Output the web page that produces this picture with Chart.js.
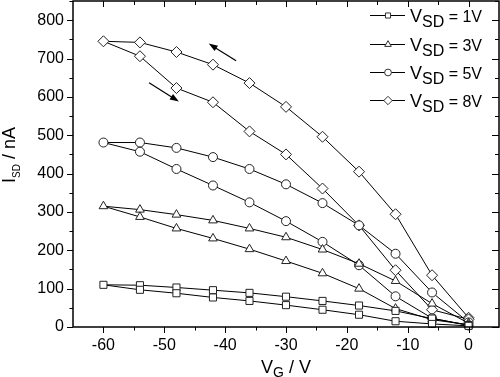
<!DOCTYPE html>
<html>
<head>
<meta charset="utf-8">
<script src="https://cdn.jsdelivr.net/npm/chart.js@4/dist/chart.umd.min.js"></script>
<style>
html,body{margin:0;padding:0;background:#fff;}
#c{display:block;}
</style>
</head>
<body>
<canvas id="c" width="500" height="377"></canvas>
<script>
// Gate voltage sweep: 0 -> -60 (upper branch), then back -54 -> 0 (lower branch)
const vgUp   = [0, -6, -12, -18, -24, -30, -36, -42, -48, -54, -60];
const vgDown = [-54, -48, -42, -36, -30, -24, -18, -12, -6, 0];

const seriesNames = ["1V", "3V", "5V", "8V"];
const pointStyles = ["rect", "triangle", "circle", "rectRot"];

const i1Up   = [5, 22, 42, 56, 68, 79, 89, 96, 103, 109, 110];
const i1Down = [97, 88, 77, 68, 57, 45, 32, 15, 8, 3];

const i3Up   = [10, 61, 120, 165, 202, 234, 257, 278, 293, 306, 315];
const i3Down = [287, 257, 231, 203, 172, 140, 100, 48, 19, 6];

const i5Up   = [12, 90, 191, 265, 323, 372, 412, 443, 467, 481, 481];
const i5Down = [457, 412, 369, 325, 276, 222, 161, 80, 23, 4];

const i8Up   = [24, 135, 294, 405, 496, 574, 636, 684, 717, 742, 745];
const i8Down = [706, 623, 586, 510, 450, 361, 265, 148, 45, 20];

const xTickValues = [-60, -50, -40, -30, -20, -10, 0];
const yTickValues = [0, 100, 200, 300, 400, 500, 600, 700, 800];

// arrows [x1,y1,x2,y2] in data units (tail -> head)
const arrowUp   = [-38.2, 694, -42.7, 739];
const arrowDown = [-52.5, 637, -47.6, 588];

function loop(up, down) {
  return vgUp.map((x, i) => ({x: x, y: up[i]}))
    .concat(vgDown.map((x, i) => ({x: x, y: down[i]})));
}
const allUp = [i1Up, i3Up, i5Up, i8Up];
const allDown = [i1Down, i3Down, i5Down, i8Down];
const radii = [5, 5, 4.5, 5.5];

const datasets = seriesNames.map((n, k) => ({
  label: "VSD = " + n,
  data: loop(allUp[k], allDown[k]),
  borderColor: "#000",
  borderWidth: 1,
  pointStyle: pointStyles[k],
  pointRadius: radii[k],
  pointBackgroundColor: "#fff",
  pointBorderColor: "#222",
  pointBorderWidth: 1,
  tension: 0,
  fill: false,
  clip: false
}));

const FONT = "'Liberation Sans', Arial, sans-serif";

const decor = {
  id: "decor",
  afterDraw(chart) {
    const ctx = chart.ctx;
    const a = chart.chartArea;
    const xs = chart.scales.x, ys = chart.scales.y;
    ctx.save();
    ctx.strokeStyle = "#000";
    ctx.fillStyle = "#000";
    // frame
    ctx.lineWidth = 1.5;
    ctx.strokeRect(a.left, a.top, a.right - a.left, a.bottom - a.top);
    // ticks
    ctx.lineWidth = 1;
    ctx.beginPath();
    for (let v = -65; v <= 5; v += 5) {
      const px = Math.round(xs.getPixelForValue(v)) + 0.5;
      const major = v % 10 === 0;
      const lb = major ? 6 : 3.5;
      const lt = major ? 6 : 4;
      if (v > -65 && v < 5) {
        ctx.moveTo(px, a.bottom); ctx.lineTo(px, a.bottom + lb);
        ctx.moveTo(px, a.top); ctx.lineTo(px, a.top + lt);
      }
    }
    for (let v = 0; v <= 850; v += 50) {
      const py = Math.round(ys.getPixelForValue(v)) + 0.5;
      const major = v % 100 === 0;
      ctx.moveTo(a.left, py); ctx.lineTo(a.left - (major ? 6 : 3.5), py);
      ctx.moveTo(a.right, py); ctx.lineTo(a.right - (major ? 7 : 4), py);
    }
    ctx.stroke();

    // arrows
    function arrow(arr) {
      const x1 = xs.getPixelForValue(arr[0]), y1 = ys.getPixelForValue(arr[1]);
      const x2 = xs.getPixelForValue(arr[2]), y2 = ys.getPixelForValue(arr[3]);
      const ang = Math.atan2(y2 - y1, x2 - x1);
      const L = 9, W = 3.2;
      ctx.lineWidth = 1.2;
      ctx.beginPath();
      ctx.moveTo(x1, y1);
      ctx.lineTo(x2 - Math.cos(ang) * L * 0.8, y2 - Math.sin(ang) * L * 0.8);
      ctx.stroke();
      ctx.beginPath();
      ctx.moveTo(x2, y2);
      ctx.lineTo(x2 - Math.cos(ang) * L - Math.sin(ang) * W, y2 - Math.sin(ang) * L + Math.cos(ang) * W);
      ctx.lineTo(x2 - Math.cos(ang) * L + Math.sin(ang) * W, y2 - Math.sin(ang) * L - Math.cos(ang) * W);
      ctx.closePath();
      ctx.fill();
    }
    arrow(arrowUp);
    arrow(arrowDown);

    // legend
    const rowsY = [15, 44, 72, 100];
    const legR = [3.6, 3.8, 3.4, 4.2];
    seriesNames.forEach((n, k) => {
      const y = rowsY[k];
      ctx.lineWidth = 1;
      ctx.strokeStyle = "#000";
      ctx.beginPath();
      ctx.moveTo(370, y + 0.5); ctx.lineTo(405, y + 0.5);
      ctx.stroke();
      ctx.fillStyle = "#fff";
      ctx.strokeStyle = "#333";
      Chart.helpers.drawPoint(ctx, {pointStyle: pointStyles[k], radius: legR[k], rotation: 0, borderWidth: 1}, 388, y + 0.5);
      ctx.fillStyle = "#000";
      ctx.textBaseline = "alphabetic";
      ctx.textAlign = "left";
      let x = 410;
      const base = y + 7;
      ctx.font = "18px " + FONT;
      ctx.fillText("V", x, base); x += ctx.measureText("V").width;
      ctx.font = "16px " + FONT;
      ctx.fillText("SD", x, base + 5); x += ctx.measureText("SD").width;
      ctx.font = "16px " + FONT;
      ctx.fillText(" = " + n, x, base);
    });

    // x title
    ctx.fillStyle = "#000";
    ctx.textBaseline = "alphabetic";
    ctx.textAlign = "left";
    const cx = (a.left + a.right) / 2;
    ctx.font = "18px " + FONT;
    const wV = ctx.measureText("V").width;
    const wRest = ctx.measureText(" / V").width;
    ctx.font = "14px " + FONT;
    const wG = ctx.measureText("G").width;
    let x0 = cx - (wV + wG + wRest) / 2;
    ctx.font = "18px " + FONT;
    ctx.fillText("V", x0, 373);
    ctx.font = "14px " + FONT;
    ctx.fillText("G", x0 + wV, 377);
    ctx.font = "18px " + FONT;
    ctx.fillText(" / V", x0 + wV + wG, 373);

    // y title (rotated)
    ctx.save();
    ctx.translate(15, 155);
    ctx.rotate(-Math.PI / 2);
    ctx.font = "18px " + FONT;
    const wI = ctx.measureText("I").width;
    const wR = ctx.measureText(" / nA").width;
    ctx.font = "10px " + FONT;
    const wS = ctx.measureText("SD").width;
    let s = -(wI + wS + wR) / 2;
    ctx.font = "18px " + FONT;
    ctx.fillText("I", s, 0);
    ctx.font = "10px " + FONT;
    ctx.fillText("SD", s + wI, 5);
    ctx.font = "18px " + FONT;
    ctx.fillText(" / nA", s + wI + wS, 0);
    ctx.restore();

    ctx.restore();
  }
};

function zeroPad(s) { s.paddingTop = 0; s.paddingBottom = 0; s.paddingLeft = 0; s.paddingRight = 0; }

new Chart(document.getElementById("c"), {
  type: "line",
  data: {datasets: datasets},
  options: {
    responsive: false,
    animation: false,
    devicePixelRatio: 1,
    layout: {autoPadding: false, padding: {top: 1, right: 1, left: 0, bottom: 0}},
    plugins: {legend: {display: false}, tooltip: {enabled: false}},
    scales: {
      x: {
        type: "linear",
        min: -65, max: 5,
        grid: {display: false, drawTicks: false},
        border: {display: false},
        afterFit(s) { s.height = 50; zeroPad(s); },
        afterBuildTicks(s) { s.ticks = xTickValues.map(v => ({value: v})); },
        ticks: {padding: 9, color: "#000", font: {family: FONT, size: 16}, maxRotation: 0}
      },
      y: {
        type: "linear",
        min: 0, max: 850,
        grid: {display: false, drawTicks: false},
        border: {display: false},
        afterFit(s) { s.width = 73; zeroPad(s); },
        afterBuildTicks(s) { s.ticks = yTickValues.map(v => ({value: v})); },
        ticks: {padding: 9, color: "#000", font: {family: FONT, size: 16}}
      }
    }
  },
  plugins: [decor]
});
</script>
</body>
</html>
